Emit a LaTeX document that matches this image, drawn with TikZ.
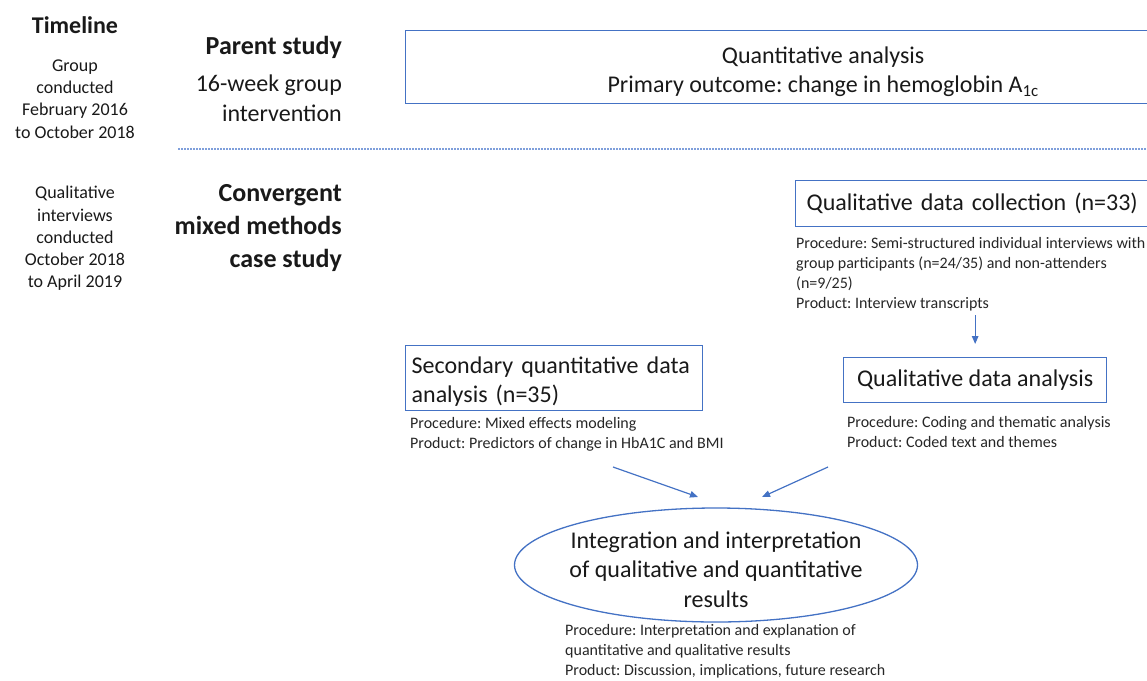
\documentclass[tikz,border=0pt]{standalone}
\usepackage{fontspec}
\setmainfont{Carlito}
\frenchspacing
\usetikzlibrary{arrows.meta,positioning,shapes.geometric}
\definecolor{boxblue}{HTML}{4472C4}
\definecolor{dotblue}{HTML}{7F9FDB}
\newcommand{\headfont}{\fontsize{26}{33}\selectfont\bfseries}
\newcommand{\boxfont}{\fontsize{24}{29.5}\selectfont}
\newcommand{\datefont}{\fontsize{18}{22.3}\selectfont}
\newcommand{\notefont}{\fontsize{16}{20}\selectfont}

\begin{document}
\begin{tikzpicture}[x=1pt,y=-1pt,
every node/.style={inner sep=0pt,text=black!90},
blbox/.style={draw=boxblue,line width=1.3pt},
note/.style={anchor=north west,align=left,font=\notefont,text=black!85},
arr/.style={boxblue,line width=1.2pt,-{Triangle[length=8pt,width=6.5pt]}}]
\clip (0,0) rectangle (1147,680);
\node[font=\fontsize{24}{29}\selectfont\bfseries] (tl) at (75,25) {Timeline};
\node[font=\datefont,align=center] (tlparent) at (75,99) {Group\\conducted\\February 2016\\to October 2018};
\node[font=\datefont,align=center] (tlconv) at (75,238.5) {Qualitative\\interviews\\conducted\\October 2018\\to April 2019};
\node[font=\headfont,anchor=east] (parent) at (342,47) {Parent study};
\node[font=\boxfont,align=right,anchor=east] (parentint) at (342,98.5) {16-week group\\intervention};
\node[font=\headfont,align=right,anchor=east] (conv) at (342,228) {Convergent\\mixed methods\\case study};
\coordinate (sepl) at (178,149);
\coordinate (sepr) at (1147,149);
\draw[dotblue,line width=1.4pt,dash pattern=on 1.8pt off 1.2pt] (sepl) -- (sepr);
\node[blbox,anchor=north west,minimum width=835pt,minimum height=73pt] (quant) at (405,30) {};
\node[align=center,font=\boxfont,yshift=-4.5pt] (quantlbl) at (quant.center) {Quantitative analysis\\Primary outcome: change in hemoglobin A\textsubscript{1c}};
\node[blbox,anchor=north west,inner xsep=11pt,text width=390pt,minimum height=46pt,align=left,font=\boxfont] (qualcoll) at (795,180) {Qualitative data collection (n=33)};
\node[note] (qualcolltxt) at (796,237) {Procedure: Semi-structured individual interviews with\\group participants (n=24/35) and non-attenders\\(n=9/25)\\Product: Interview transcripts};
\node[blbox,anchor=north west,minimum width=263pt,minimum height=45pt,font=\boxfont] (qualana) at (843,357) {Qualitative data analysis};
\node[note] (qualanatxt) at (847,416) {Procedure: Coding and thematic analysis\\Product: Coded text and themes};
\node[blbox,anchor=north west,minimum width=297pt,minimum height=65pt] (secquant) at (405,345) {};
\node[align=left,font=\boxfont,text width=285pt,yshift=-3.5pt] (secquantlbl) at (secquant.center) {Secondary quantitative data\\analysis (n=35)};
\node[note] (secquanttxt) at (410,417.5) {Procedure: Mixed effects modeling\\Product: Predictors of change in HbA1C and BMI};
\node[ellipse,draw=boxblue,line width=1.3pt,minimum width=403pt,minimum height=114pt] (integ) at (716,565) {};
\node[align=center,font=\boxfont,yshift=-4.5pt] (integlbl) at (integ.center) {Integration and interpretation\\of qualitative and quantitative\\results};
\node[note] (integtxt) at (565,624) {Procedure: Interpretation and explanation of\\quantitative and qualitative results\\Product: Discussion, implications, future research};
\coordinate (secout) at (613,467);
\coordinate (secin) at (698,497);
\coordinate (qualout) at (828,467);
\coordinate (qualin) at (762,497);
\draw[arr,shorten <=4pt,shorten >=13pt] (qualana.north |- qualcolltxt.south) -- (qualana.north);
\draw[arr] (secout) -- (secin);
\draw[arr] (qualout) -- (qualin);
\end{tikzpicture}
\end{document}
